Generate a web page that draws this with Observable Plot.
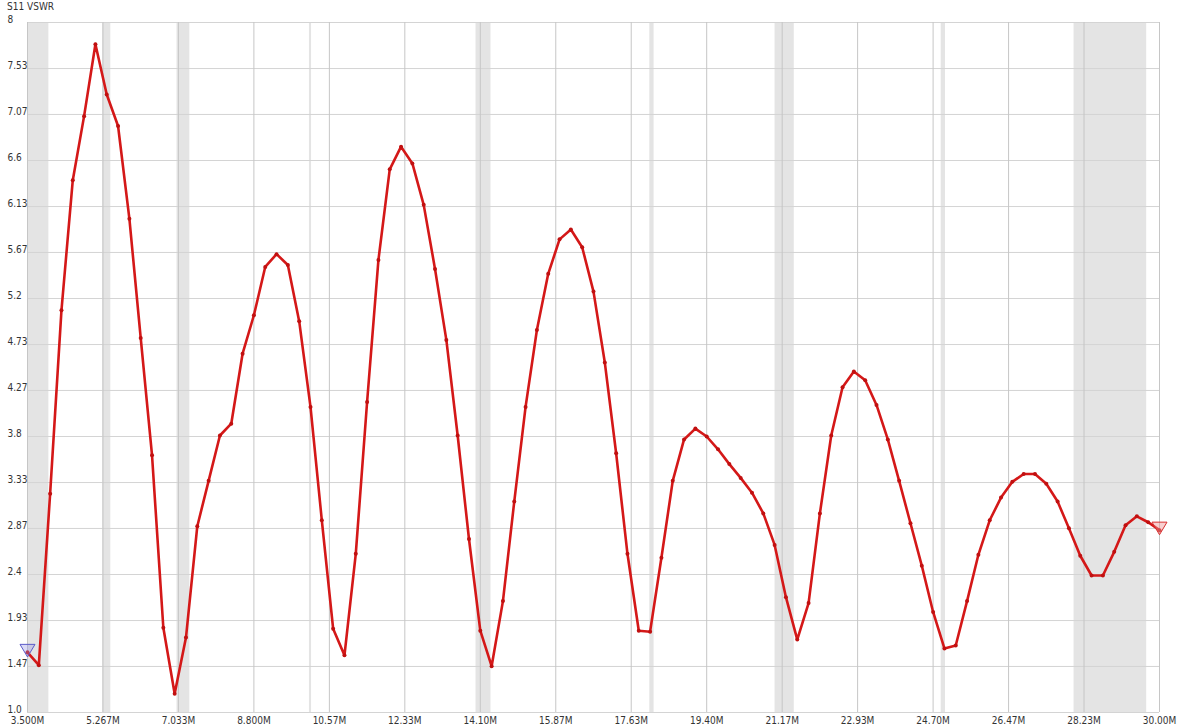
<!DOCTYPE html>
<html>
<head>
<meta charset="utf-8">
<script src="https://cdn.jsdelivr.net/npm/d3@7"></script>
<script src="https://cdn.jsdelivr.net/npm/@observablehq/plot@0.6"></script>
<style>
  html, body { margin: 0; padding: 0; background: #fff; }
  #wrap { position: relative; width: 1177px; height: 728px; }
  #title { position: absolute; left: 7px; top: 1px; font: 10px 'Liberation Sans Narrow', 'DejaVu Sans Condensed', 'Noto Sans', sans-serif; color: #333; }
</style>
</head>
<body>
<div id="wrap"><div id="title">S11 VSWR</div></div>
<script>
// Frequencies (MHz): 101 sweep points, 3.5 to 30 MHz
const freqStart = 3.5;
const freqStep = 0.265;
const vswr = [
  1.61, 1.48, 3.22, 5.08, 6.40, 7.05, 7.78, 7.27, 6.95, 6.01,
  4.80, 3.61, 1.86, 1.19, 1.76, 2.89, 3.35, 3.81, 3.93, 4.64,
  5.03, 5.52, 5.65, 5.54, 4.97, 4.10, 2.95, 1.85, 1.58, 2.61,
  4.15, 5.59, 6.51, 6.74, 6.57, 6.15, 5.50, 4.78, 3.81, 2.76,
  1.83, 1.47, 2.13, 3.14, 4.10, 4.88, 5.45, 5.80, 5.90, 5.72,
  5.27, 4.55, 3.63, 2.61, 1.83, 1.82, 2.57, 3.35, 3.77, 3.88,
  3.80, 3.67, 3.52, 3.38, 3.23, 3.02, 2.70, 2.17, 1.74, 2.11,
  3.02, 3.81, 4.30, 4.46, 4.37, 4.12, 3.77, 3.35, 2.92, 2.49,
  2.02, 1.65, 1.68, 2.13, 2.60, 2.95, 3.18, 3.34, 3.42, 3.42,
  3.32, 3.14, 2.87, 2.59, 2.39, 2.39, 2.63, 2.90, 2.99, 2.93,
  2.85
];

// Amateur band highlights (MHz)
const bandStart = [3.5, 5.258, 7.0, 10.1, 14.0, 18.068, 21.0, 24.89, 28.0];
const bandEnd   = [4.0, 5.45, 7.3, 10.15, 14.35, 18.168, 21.45, 24.99, 29.7];

const xTickValues = [3.5, 5.267, 7.033, 8.8, 10.567, 12.333, 14.1, 15.867, 17.633, 19.4, 21.167, 22.933, 24.7, 26.467, 28.233, 30.0];
const xTickLabels = ["3.500M", "5.267M", "7.033M", "8.800M", "10.57M", "12.33M", "14.10M", "15.87M", "17.63M", "19.40M", "21.17M", "22.93M", "24.70M", "26.47M", "28.23M", "30.00M"];
const yTickValues = [1.0, 1.467, 1.933, 2.4, 2.867, 3.333, 3.8, 4.267, 4.733, 5.2, 5.667, 6.133, 6.6, 7.067, 7.533, 8.0];
const yTickLabels = ["1.0", "1.47", "1.93", "2.4", "2.87", "3.33", "3.8", "4.27", "4.73", "5.2", "5.67", "6.13", "6.6", "7.07", "7.53", "8"];

const points = vswr.map((v, i) => ({f: freqStart + i * freqStep, v}));
const bands = bandStart.map((s, i) => ({s, e: bandEnd[i]}));
const markers = [
  {f: points[0].f, v: points[0].v, stroke: "#5b5bc8", fill: "rgba(150,150,230,0.35)"},
  {f: points[points.length - 1].f, v: points[points.length - 1].v, stroke: "#d83030", fill: "rgba(240,150,150,0.45)"}
];

const triDown = {
  draw(ctx) {
    ctx.moveTo(-7.5, -8);
    ctx.lineTo(7.5, -8);
    ctx.lineTo(0, 4.6);
    ctx.closePath();
  }
};

const xLabel = new Map(xTickValues.map((v, i) => [v, xTickLabels[i]]));
const yLabel = new Map(yTickValues.map((v, i) => [v, yTickLabels[i]]));

const chart = Plot.plot({
  width: 1177,
  height: 728,
  marginLeft: 27,
  marginRight: 18,
  marginTop: 22,
  marginBottom: 16,
  style: {fontFamily: "'Liberation Sans Narrow', 'DejaVu Sans Condensed', 'Noto Sans', sans-serif", fontSize: "10px", color: "#333", background: "#fff", overflow: "visible"},
  x: {domain: [3.5, 30], type: "linear"},
  y: {domain: [1, 8], type: "linear"},
  marks: [
    Plot.rect(bands, {x1: "s", x2: "e", fill: "#e4e4e4"}),
    Plot.gridY(yTickValues, {stroke: "#d4d4d4", strokeOpacity: 1, strokeWidth: 1}),
    Plot.gridX(xTickValues, {stroke: "#c6c6c6", strokeOpacity: 1, strokeWidth: 1}),
    Plot.axisX(xTickValues, {tickSize: 0, tickPadding: 4, tickFormat: d => xLabel.get(d), fill: "#333", label: null}),
    Plot.axisY(yTickValues, {tickSize: 0, tickPadding: 0, dx: -20, dy: -2.5, textAnchor: "start", tickFormat: d => yLabel.get(d), fill: "#333", label: null}),
    Plot.line(points, {x: "f", y: "v", stroke: "#d41818", strokeWidth: 2.6, strokeLinejoin: "round"}),
    Plot.dot(points, {x: "f", y: "v", r: 2, fill: "#c01010"}),
    Plot.dot(markers, {x: "f", y: "v", symbol: triDown, r: 5, stroke: "stroke", fill: "fill", strokeWidth: 1})
  ]
});
document.getElementById("wrap").appendChild(chart);
</script>
</body>
</html>
